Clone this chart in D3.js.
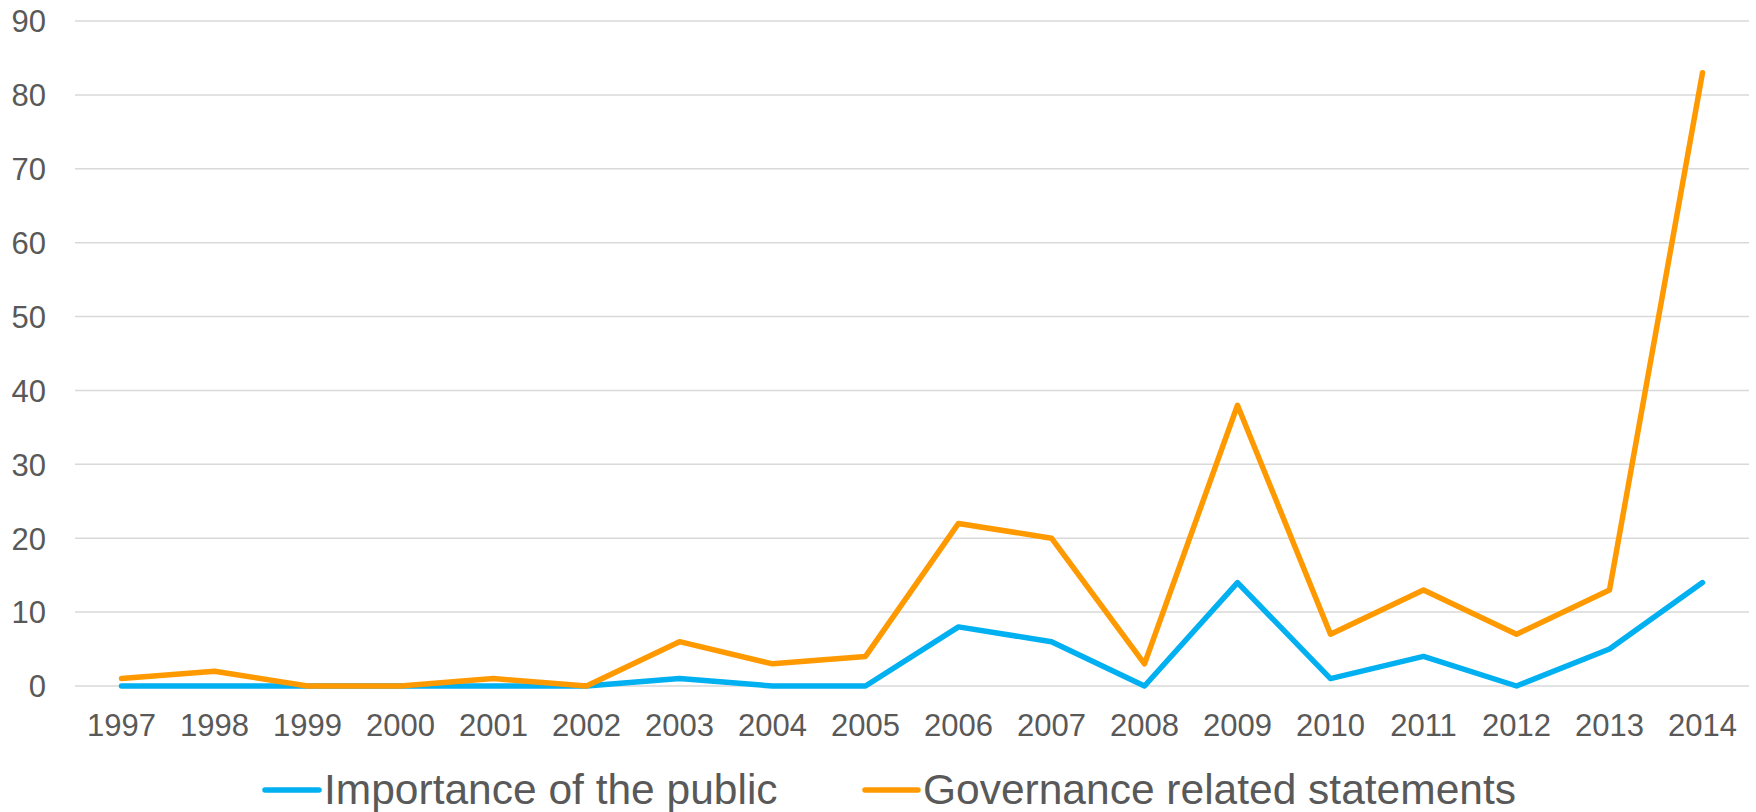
<!DOCTYPE html>
<html>
<head>
<meta charset="utf-8">
<script src="https://cdn.jsdelivr.net/npm/d3@7"></script>
<style>
  html, body { margin: 0; padding: 0; background: #ffffff; }
  svg { display: block; }
</style>
</head>
<body>
<svg id="chart" width="1756" height="812"></svg>
<script>
const years = ["1997","1998","1999","2000","2001","2002","2003","2004","2005","2006","2007","2008","2009","2010","2011","2012","2013","2014"];
const importancePublic = [0,0,0,0,0,0,1,0,0,8,6,0,14,1,4,0,5,14];
const governanceStatements = [1,2,0,0,1,0,6,3,4,22,20,3,38,7,13,7,13,83];
const yTicks = [0,10,20,30,40,50,60,70,80,90];
const seriesNames = ["Importance of the public", "Governance related statements"];
const seriesColors = ["#00B0F0", "#FF9900"];

const svg = d3.select("#chart");
const font = "'Liberation Sans', Arial, sans-serif";
const textColor = "#595959";

const x = d3.scaleBand().domain(years).range([75, 1749]).padding(0);
const y = d3.scaleLinear().domain([0, 90]).range([686, 21]);

// gridlines
svg.append("g")
  .selectAll("line")
  .data(yTicks)
  .join("line")
  .attr("x1", 75).attr("x2", 1749)
  .attr("y1", d => y(d)).attr("y2", d => y(d))
  .attr("stroke", "#D9D9D9")
  .attr("stroke-width", 1.5);

// y axis
const yAxis = svg.append("g")
  .attr("transform", "translate(55,0)")
  .call(d3.axisLeft(y).tickValues(yTicks).tickSize(0).tickPadding(0).tickFormat(d3.format("d")));
yAxis.select(".domain").remove();
yAxis.selectAll("text")
  .attr("font-family", font).attr("font-size", 31).attr("fill", textColor)
  .attr("x", -9).attr("dy", "0.35em");

// x axis
const xAxis = svg.append("g")
  .attr("transform", "translate(0,686)")
  .call(d3.axisBottom(x).tickSize(0).tickPadding(0));
xAxis.select(".domain").remove();
xAxis.selectAll("text")
  .attr("font-family", font).attr("font-size", 31).attr("fill", textColor)
  .attr("y", 50).attr("dy", null);

const cx = d => x(d) + x.bandwidth() / 2;
const line = d3.line().x((d, i) => cx(years[i])).y(d => y(d));

[importancePublic, governanceStatements].forEach((vals, k) => {
  svg.append("path")
    .datum(vals)
    .attr("d", line)
    .attr("fill", "none")
    .attr("stroke", seriesColors[k])
    .attr("stroke-width", 5.5)
    .attr("stroke-linecap", "round")
    .attr("stroke-linejoin", "round");
});

// legend
const legendItems = [
  { name: seriesNames[0], color: seriesColors[0], x1: 265, x2: 319, tx: 324 },
  { name: seriesNames[1], color: seriesColors[1], x1: 865, x2: 918, tx: 923 }
];
const lg = svg.append("g");
legendItems.forEach(it => {
  lg.append("line")
    .attr("x1", it.x1).attr("x2", it.x2)
    .attr("y1", 790).attr("y2", 790)
    .attr("stroke", it.color).attr("stroke-width", 5.5).attr("stroke-linecap", "round");
  lg.append("text")
    .attr("x", it.tx).attr("y", 804)
    .attr("font-family", font).attr("font-size", 42.5).attr("fill", textColor)
    .text(it.name);
});
</script>
</body>
</html>
